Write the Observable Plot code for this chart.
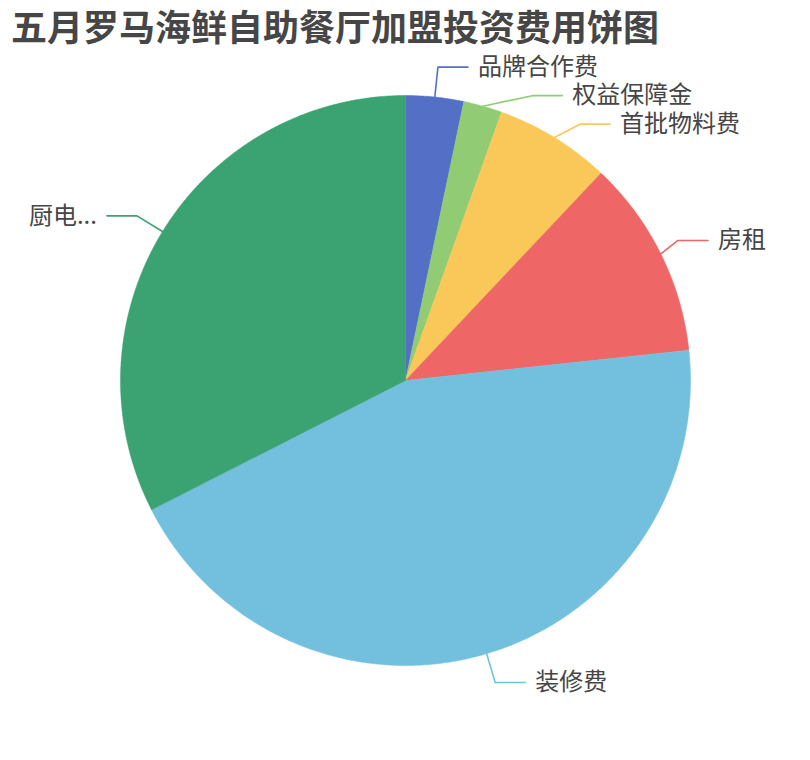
<!DOCTYPE html>
<html><head><meta charset="utf-8">
<script src="https://cdn.jsdelivr.net/npm/d3@7"></script>
<script src="https://cdn.jsdelivr.net/npm/@observablehq/plot@0.6"></script>
<style>
body{margin:0;background:#fff;}
#title{height:40px;line-height:50px;padding-left:11px;font-weight:bold;font-size:36px;font-family:"Noto Sans CJK SC",sans-serif;color:#464646;white-space:nowrap;overflow:visible}
</style></head><body>
<div id="title">五月罗马海鲜自助餐厅加盟投资费用饼图</div>
<div id="chart"></div>
<script>
// ---- data ----
const categories = ["品牌合作费", "权益保障金", "首批物料费", "房租", "装修费", "厨电..."];
const labels = ["品牌合作费", "权益保障金", "首批物料费", "房租", "装修费", "厨电..."];
const values = [3, 2, 6, 10.3, 40.4, 29.7];
const colors = ["#5470c6", "#91cc75", "#fac858", "#ee6666", "#73c0de", "#3ba272"];

// ---- layout ----
const W = 810, H = 720, R = 285, CY = 340;
const arcs = d3.pie().sort(null).value(d => d)(values);

const slicePts = [];
arcs.forEach((a, i) => {
  const name = categories[i];
  slicePts.push({name, x: 0, y: 0});
  const n = Math.max(2, Math.ceil((a.endAngle - a.startAngle) / (Math.PI / 360)));
  for (let k = 0; k <= n; k++) {
    const t = a.startAngle + (a.endAngle - a.startAngle) * k / n;
    slicePts.push({name, x: Math.sin(t), y: Math.cos(t)});
  }
  slicePts.push({name, x: 0, y: 0});
});

// label placement (pie-style outer labels with overlap shifting)
const L1 = 30 / R, L2 = 30 / R, GAP = 28.5 / R, DIST = 10 / R;
const r1 = 1 + L1;
const items = arcs.map((a, i) => {
  const m = (a.startAngle + a.endAngle) / 2;
  return {name: categories[i], label: labels[i], side: Math.sin(m) >= 0 ? 1 : -1,
    ex: Math.sin(m), ey: Math.cos(m), bx: r1 * Math.sin(m), by: r1 * Math.cos(m)};
});
for (const side of [1, -1]) {
  const s = items.filter(d => d.side === side).sort((a, b) => b.by - a.by);
  if (s.length < 2) continue;
  let shifted = false;
  for (let k = 1; k < s.length; k++) {
    if (s[k - 1].by - s[k].by < GAP) { s[k].by = s[k - 1].by - GAP; shifted = true; }
  }
  if (!shifted) continue;
  for (const semi of [s.filter(d => d.by > 0), s.filter(d => d.by <= 0)]) {
    if (!semi.length) continue;
    const ext = semi.reduce((a, b) => Math.abs(b.by) > Math.abs(a.by) ? b : a);
    const dx0 = Math.abs(ext.bx) + DIST;
    const rB = dx0 < r1 ? Math.abs(ext.by) / Math.sqrt(1 - dx0 * dx0 / (r1 * r1)) : r1;
    semi.forEach(d => {
      const dx = Math.sqrt(Math.max(0, 1 - d.by * d.by / (rB * rB))) * r1;
      d.bx = side * (dx - DIST);
    });
  }
}
items.forEach(d => { d.tx = d.bx + d.side * L2; });
const leader = items.flatMap(d => [
  {name: d.name, x: d.ex, y: d.ey},
  {name: d.name, x: d.bx, y: d.by},
  {name: d.name, x: d.tx, y: d.by}
]);

const plot = Plot.plot({
  width: W, height: H, margin: 0,
  x: {domain: [-W / 2 / R, W / 2 / R], range: [0, W], axis: null},
  y: {domain: [-(H - CY) / R, CY / R], range: [H, 0], axis: null},
  color: {domain: categories, range: colors},
  style: {fontFamily: '"Noto Sans CJK SC", sans-serif', background: "#fff"},
  marks: [
    Plot.line(slicePts, {x: "x", y: "y", z: "name", fill: "name", stroke: "name", strokeWidth: 0.5, curve: "linear"}),
    Plot.line(leader, {x: "x", y: "y", z: "name", stroke: "name", strokeWidth: 1.6, curve: "linear"}),
    Plot.text(items.filter(d => d.side > 0), {x: "tx", y: "by", text: "label", textAnchor: "start", dx: 10, fontSize: 24, fill: "#464646"}),
    Plot.text(items.filter(d => d.side < 0), {x: "tx", y: "by", text: "label", textAnchor: "end", dx: -10, fontSize: 24, fill: "#464646"})
  ]
});
document.getElementById("chart").appendChild(plot);
</script>
</body></html>
